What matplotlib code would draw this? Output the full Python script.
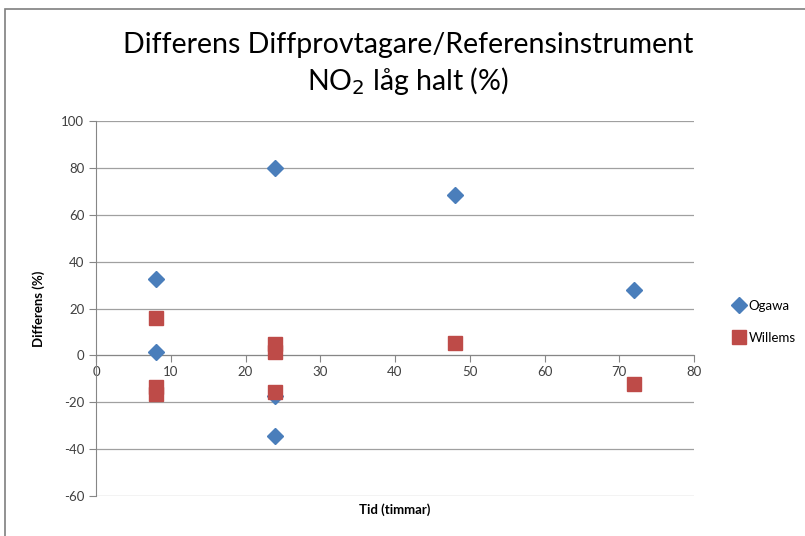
import matplotlib
matplotlib.use("Agg")
import matplotlib.pyplot as plt
from matplotlib.patches import Rectangle

plt.rcParams['font.family'] = ['Lato', 'DejaVu Sans']
plt.rcParams['axes.unicode_minus'] = False

ogawa_x = [8, 8, 24, 24, 24, 48, 72]
ogawa_y = [32.5, 1.5, 80, -17.5, -34.5, 68.3, 28]
willems_x = [8, 8, 8, 24, 24, 24, 48, 72]
willems_y = [15.8, -13.5, -16.5, 5, 1.5, -15.5, 5.3, -12.3]

x_ticks = [0, 10, 20, 30, 40, 50, 60, 70, 80]
y_ticks = [-60, -40, -20, 0, 20, 40, 60, 80, 100]

fig = plt.figure(figsize=(8.05, 5.36), dpi=100)
fig.patch.set_facecolor('white')
fig.add_artist(Rectangle((5/805, -0.01), 1.0, 1 - 9/536 + 0.01, transform=fig.transFigure,
                         fill=False, edgecolor='#7f7f7f', linewidth=1.2))

ax = fig.add_axes([96/805, 40/536, (694-96)/805, (496-121)/536])
ax.set_xlim(0, 80)
ax.set_ylim(-60, 100)
ax.set_xticks(x_ticks)
ax.set_yticks(y_ticks)
ax.grid(axis='y', color='#a0a0a0', linewidth=0.9)
ax.set_axisbelow(True)

ax.plot(ogawa_x, ogawa_y, linestyle='none', marker='D', markersize=8,
        color='#4a7ebb', label='Ogawa', zorder=3)
ax.plot(willems_x, willems_y, linestyle='none', marker='s', markersize=10,
        color='#be4b48', label='Willems', zorder=4)

for s in ['top', 'right']:
    ax.spines[s].set_visible(False)
ax.spines['bottom'].set_position(('data', 0))
ax.spines['bottom'].set_color('#868686')
ax.spines['left'].set_color('#868686')
ax.tick_params(axis='both', colors='#868686', labelcolor='#404040', labelsize=9.5, length=5)
ax.tick_params(axis='x', pad=3)

ax.set_ylabel('Differens (%)', fontsize=9.5, fontweight='bold', labelpad=12)
fig.text(0.5 * (96 + 694) / 805, 1 - 510/536, 'Tid (timmar)', fontsize=9.5, fontweight='bold',
         ha='center', va='center')

fig.text(408/805, 1 - 45/536, 'Differens Diffprovtagare/Referensinstrument',
         fontsize=20.5, ha='center', va='center')
fig.text(408/805, 1 - 81/536, r'NO$_2$ låg halt (%)',
         fontsize=20.5, ha='center', va='center')

fig.legend(loc='center left', bbox_to_anchor=(722/805, 1 - 322/536), frameon=False,
           fontsize=9.5, labelspacing=1.5, handlelength=0.8, handletextpad=0.3, numpoints=1)

fig.savefig('out.png', dpi=100)
